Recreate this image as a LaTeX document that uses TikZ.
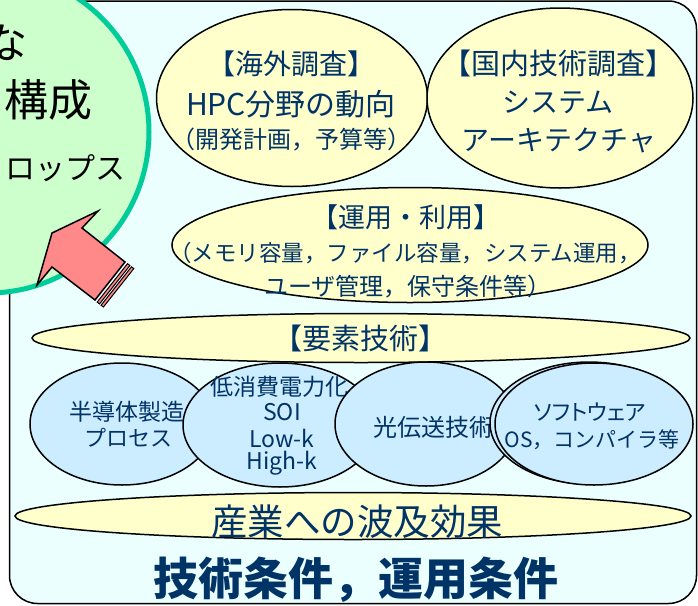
\documentclass[tikz,border=0pt]{standalone}
\usepackage{fontspec}
\usetikzlibrary{shapes.geometric}
\newfontfamily\jp{Noto Sans CJK JP}
\newfontfamily\jpp[RawFeature=+palt]{Noto Sans CJK JP}
\definecolor{bgc}{RGB}{235,255,255}
\definecolor{yelf}{RGB}{255,255,204}
\definecolor{bluf}{RGB}{204,236,255}
\definecolor{grnf}{RGB}{204,255,204}
\definecolor{grnd}{RGB}{0,204,153}
\definecolor{navy}{RGB}{0,51,102}
\definecolor{arrf}{RGB}{255,136,136}
\newcommand{\fs}[1]{\fontsize{#1}{#1}\selectfont}
\begin{document}
\begin{tikzpicture}[x=1pt,y=-1pt,
  yel/.style={ellipse, draw=black, line width=1.5pt, fill=yelf, inner sep=0pt},
  blu/.style={ellipse, draw=black, line width=1.5pt, fill=bluf, inner sep=0pt},
  lbl/.style={text=navy, inner sep=0pt},
  blk/.style={text=black, inner sep=0pt, anchor=east}]
\useasboundingbox (0,0) rectangle (698,605);
\fill[white] (0,0) rectangle (698,605);
\draw[fill=bgc, line width=1.5pt, rounded corners=28pt] (9.5,1) rectangle (696.5,603.5);
% green circle
\node[circle, draw=grnd, fill=grnf, line width=5pt, minimum size=322pt, inner sep=0pt] (ring) at (-12,132) {};
\node[blk, font=\jp\fs{42}] (c1) at (28,43) {な};
\node[blk, font=\jp\fs{44}] (c2) at (93,100) {構成};
\node[blk, font=\jp\fs{30}] (c3) at (126,168) {ロップス};
% arrow
\draw[fill=arrf, line width=1.5pt, line join=miter] (52,233) -- (98,211) -- (82,228) -- (125,262) -- (95,300) -- (52,267) -- (37,285) -- cycle;
\draw[fill=arrf, line width=1pt] (127.5,263.7) -- (129.9,265.5) -- (99.5,303.9) -- (97.2,302.1) -- cycle;
\draw[fill=arrf, line width=1pt] (131.5,266.8) -- (133.8,268.6) -- (103.4,307.0) -- (101.1,305.2) -- cycle;
% top ellipses
\node[yel, minimum width=271pt, minimum height=177pt] (e1) at (292,98) {};
\node[lbl, font=\jp\fs{28}] (e1a) at (291,64) {【海外調査】};
\node[lbl, font=\jp\fs{30}] (e1b) at (291,104) {HPC分野の動向};
\node[lbl, font=\jp\fs{24}] (e1c) at (291,140) {（開発計画，予算等）};
\node[yel, minimum width=266pt, minimum height=180pt] (e2) at (560,98) {};
\node[lbl, font=\jp\fs{29}] (e2a) at (558,63) {【国内技術調査】};
\node[lbl, font=\jp\fs{28}] (e2b) at (558,102) {システム};
\node[lbl, font=\jp\fs{28}] (e2c) at (559,140) {アーキテクチャ};
\node[yel, minimum width=476pt, minimum height=115pt] (e3) at (410,245) {};
\node[lbl, font=\jp\fs{27}] (e3a) at (406,217) {【運用・利用】};
\node[lbl, font=\jp\fs{22.5}] (e3b) at (405,253) {（メモリ容量，ファイル容量，システム運用，};
\node[lbl, font=\jp\fs{24}] (e3c) at (408,287) {ユーザ管理，保守条件等）};
% element tech
\node[yel, minimum width=658pt, minimum height=49pt] (e4) at (361,338) {};
\node[lbl, font=\jp\fs{29}] (e4a) at (360,338) {【要素技術】};
% blue ellipses
\node[blu, minimum width=184pt, minimum height=122pt] (ba) at (122,424) {};
\node[lbl, font=\jp\fs{23}] (baa) at (127,412) {半導体製造};
\node[lbl, font=\jp\fs{22}] (bab) at (128,438) {プロセス};
\node[blu, minimum width=194pt, minimum height=124pt] (bb) at (280,425) {};
\node[lbl, font=\jp\fs{23}] (bba) at (279,387) {低消費電力化};
\node[lbl, font=\jp\fs{23}] (bbb) at (282,412) {SOI};
\node[lbl, font=\jp\fs{23}] (bbc) at (282,438) {Low-k};
\node[lbl, font=\jp\fs{23}] (bbd) at (282,463) {High-k};
\node[blu, minimum width=182pt, minimum height=124pt] (bc) at (426,424) {};
\node[lbl, font=\jp\fs{24}] (bca) at (433,427) {光伝送技術};
\node[blu, minimum width=198pt, minimum height=122pt] (bd0) at (589,423) {};
\node[blu, minimum width=198pt, minimum height=122pt] (bd) at (594,424) {};
\node[lbl, font=\jpp\fs{22}] (bda) at (590,412) {ソフトウェア};
\node[lbl, font=\jp\fs{21}] (bdb) at (592,440) {OS，コンパイラ等};
% industry
\node[yel, minimum width=676pt, minimum height=47pt] (e5) at (353,516) {};
\node[lbl, font=\jp\fs{36.5}] (e5a) at (357,522) {産業への波及効果};
\node[lbl, font=\jp\bfseries\fs{45}] (tt) at (356,580) {技術条件，運用条件};
\end{tikzpicture}
\end{document}
